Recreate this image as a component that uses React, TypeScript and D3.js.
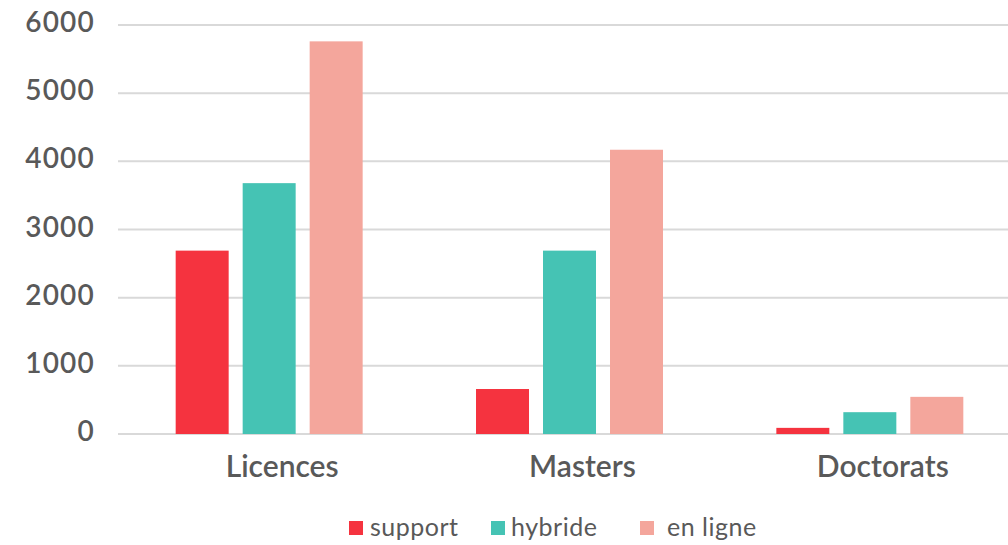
import React from "react";
import * as d3 from "d3";

const categories = ["Licences", "Masters", "Doctorats"];
const seriesNames = ["support", "hybride", "en ligne"];
const supportValues = [2690, 660, 90];
const hybrideValues = [3680, 2690, 320];
const enLigneValues = [5760, 4170, 545];
const yTicks = [0, 1000, 2000, 3000, 4000, 5000, 6000];
const colors = ["#F5333F", "#45C3B4", "#F4A69C"];

const W = 1008;
const H = 545;
const FONT = "Lato, 'Open Sans', sans-serif";

export default function App() {
  const seriesValues = [supportValues, hybrideValues, enLigneValues];
  const x0 = d3.scaleBand<string>().domain(categories).range([119, 1020]);
  const x1 = d3
    .scaleBand<string>()
    .domain(seriesNames)
    .range([0, x0.bandwidth()])
    .paddingInner(0.209)
    .paddingOuter(0.846);
  const y = d3.scaleLinear().domain([0, 6000]).range([434, 25]);

  return (
    <svg
      width={W}
      height={H}
      style={{ position: "absolute", left: 0, top: 0, display: "block", background: "#fff" }}
    >
      {yTicks.map((t) => (
        <g key={t}>
          <line x1={118} x2={1008} y1={y(t)} y2={y(t)} stroke="#d9d9d9" strokeWidth={2} />
          <text
            x={95}
            y={y(t)}
            dy={7}
            textAnchor="end"
            fontFamily={FONT}
            fontSize={28}
            fontWeight={600}
            letterSpacing={1.2}
            fill="#595959"
          >
            {t}
          </text>
        </g>
      ))}
      {categories.map((c, ci) => (
        <g key={c} transform={`translate(${x0(c)},0)`}>
          {seriesNames.map((s, si) => {
            const v = seriesValues[si][ci];
            return (
              <rect
                key={s}
                x={x1(s)}
                y={y(v)}
                width={x1.bandwidth()}
                height={y(0) - y(v)}
                fill={colors[si]}
              />
            );
          })}
          <text
            x={x0.bandwidth() / 2 + 13}
            y={477}
            textAnchor="middle"
            fontFamily={FONT}
            fontSize={30}
            fontWeight={600}
            fill="#595959"
          >
            {c}
          </text>
        </g>
      ))}
      {seriesNames.map((s, i) => {
        const sq = [349, 491, 640][i];
        const tx = [370, 511, 667][i];
        return (
          <g key={s}>
            <rect x={sq} y={521} width={14} height={14} fill={colors[i]} />
            <text x={tx} y={536} fontFamily={FONT} fontSize={25} letterSpacing={0.5} fill="#595959">
              {s}
            </text>
          </g>
        );
      })}
    </svg>
  );
}
